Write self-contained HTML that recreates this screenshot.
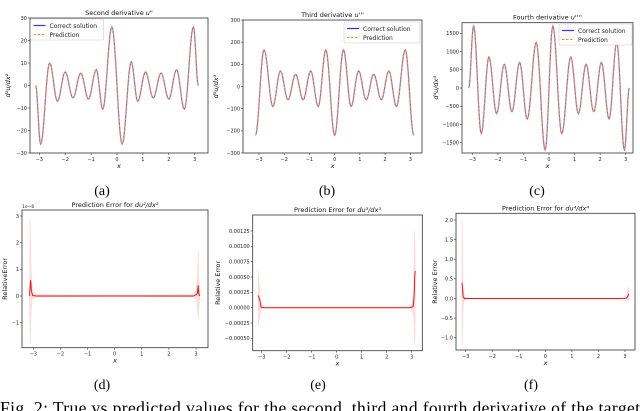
<!DOCTYPE html>
<html><head><meta charset="utf-8">
<style>
body{margin:0;background:#fff;}
svg{display:block;font-family:"DejaVu Sans","Liberation Sans",sans-serif;}
.cap{font-family:"Liberation Serif",serif;}
</style></head>
<body>
<svg id="fig" width="640" height="411" viewBox="0 0 640 411" xmlns="http://www.w3.org/2000/svg">
<text class="cap" x="102" y="195" font-size="14" text-anchor="middle">(a)</text>
<text class="cap" x="327" y="195" font-size="14" text-anchor="middle">(b)</text>
<text class="cap" x="537" y="195" font-size="14" text-anchor="middle">(c)</text>
<text class="cap" x="102" y="389" font-size="14" text-anchor="middle">(d)</text>
<text class="cap" x="318" y="389" font-size="14" text-anchor="middle">(e)</text>
<text class="cap" x="531" y="389" font-size="14" text-anchor="middle">(f)</text>
<text class="cap" x="0" y="414" font-size="17.5" textLength="640">Fig. 2: True vs predicted values for the second, third and fourth derivative of the target</text>
</svg>
<script>
// Panel (a) extrema
const aX=[-3.14,-2.95,-2.6,-2.3,-2.0,-1.7,-1.4,-1.1,-0.8,-0.55,-0.2,0.2,0.55,0.8,1.1,1.4,1.7,2.0,2.3,2.6,2.95,3.14];
const aY=[0,-26,10,-7,6,-5.5,5.5,-6,7,-10.5,26,-26,10.5,-7,6,-5.5,5.5,-6,7,-10.5,26,0];
const aYTicks=[-30,-20,-10,0,10,20,30];
// Panel (b) extrema
const bX=[-3.14,-2.8,-2.45,-2.15,-1.85,-1.55,-1.25,-0.95,-0.65,-0.35,0,0.35,0.65,0.95,1.25,1.55,1.85,2.15,2.45,2.8,3.14];
const bY=[-220,165,-90,70,-60,55,-60,70,-90,165,-220,165,-90,70,-60,55,-60,70,-90,165,-220];
const bYTicks=[-300,-200,-100,0,100,200,300];
// Panel (c) extrema
const cX=[-3.14,-2.95,-2.65,-2.35,-2.05,-1.75,-1.45,-1.15,-0.85,-0.5,-0.15,0.15,0.5,0.85,1.15,1.45,1.75,2.05,2.35,2.65,2.95,3.14];
const cY=[0,1700,-1250,850,-700,650,-650,700,-850,1250,-1700,1700,-1250,850,-700,650,-650,700,-850,1250,-1700,0];
const cYTicks=[-1500,-1000,-500,0,500,1000,1500];
const xTicks=[-3,-2,-1,0,1,2,3];
// Panel (d) error (units 1e-6)
const dX=[-3.14,-3.12,-3.1,-3.07,-3.03,-2.9,0,2.9,3.0,3.05,3.08,3.1,3.14];
const dY=[0,0.3,0.6,0.2,0.02,0,0,0,0.05,0.1,0.4,0.1,0];
const dBandHi=[0.5,2.9,2.0,0.8,0.2,0.05,0.03,0.05,0.2,0.6,1.7,0.8,0.2];
const dBandLo=[-0.3,-1.8,-1.2,-0.5,-0.1,-0.03,-0.02,-0.03,-0.1,-0.4,-0.9,-0.5,-0.1];
const dYTicks=[-1,0,1,2,3];
// Panel (e) error
const eX=[-3.14,-3.1,-3.06,-3.03,-2.9,0,2.9,3.0,3.06,3.1,3.12,3.14];
const eY=[0.0002,0.00015,0.0001,0.00001,0,0,0,0.00001,0.00002,0.0002,0.0005,0.0006];
const eBandHi=[0.0006,0.0004,0.0002,0.00005,0.00001,0.00001,0.00001,0.00005,0.0002,0.0008,0.00125,0.0009];
const eBandLo=[-0.0003,-0.0002,-0.0001,-0.00003,0,0,0,-0.00003,-0.0001,-0.0003,-0.0006,-0.0004];
const eYTicks=[-0.0005,-0.00025,0,0.00025,0.0005,0.00075,0.001,0.00125];
const eYLabels=["\u22120.00050","\u22120.00025","0.00000","0.00025","0.00050","0.00075","0.00100","0.00125"];
// Panel (f) error
const fX=[-3.14,-3.12,-3.1,-3.05,-2.9,0,2.9,3.05,3.1,3.14];
const fY=[0.4,0.3,0.05,0,0,0,0,0.01,0.05,0.12];
const fBandHi=[2.0,1.2,0.3,0.05,0.01,0.01,0.01,0.05,0.2,0.3];
const fBandLo=[-1.2,-0.8,-0.2,-0.03,0,0,0,-0.02,-0.05,-0.1];
const fYTicks=[-1,-0.5,0,0.5,1,1.5,2];
const fYLabels=["\u22121.0","\u22120.5","0.0","0.5","1.0","1.5","2.0"];

const NS="http://www.w3.org/2000/svg";
const svg=document.getElementById('fig');
function mk(tag,attrs,parent){const e=document.createElementNS(NS,tag);for(const k in attrs)e.setAttribute(k,attrs[k]);(parent||svg).appendChild(e);return e;}
function lin(d0,d1,r0,r1){return v=>r0+(v-d0)/(d1-d0)*(r1-r0);}
function fmt(v){return v<0?"\u2212"+(-v):""+v;}

function panel(p){
  const g=mk('g',{});
  
  
  const sx=lin(p.xd[0],p.xd[1],p.xr[0],p.xr[1]);
  const sy=lin(p.yd[0],p.yd[1],p.yr[0],p.yr[1]);
  const box=mk('rect',{x:p.L,y:p.T,width:p.R-p.L,height:p.B-p.T,fill:'none',stroke:'#333','stroke-width':0.8},g);
  
  
  xTicks.forEach(t=>{const x=sx(t);
    mk('line',{x1:x,x2:x,y1:p.B,y2:p.B+2,stroke:'#333','stroke-width':0.6},g);
    const tx=mk('text',{x:x,y:p.B+8,'font-size':5,'text-anchor':'middle',fill:'#222'},g);tx.textContent=fmt(t);
    
    });
  p.yt.forEach((t,i)=>{const y=sy(t);
    mk('line',{x1:p.L-2,x2:p.L,y1:y,y2:y,stroke:'#333','stroke-width':0.6},g);
    const tx=mk('text',{x:p.L-3,y:y+1.8,'font-size':5,'text-anchor':'end',fill:'#222'},g);tx.textContent=p.yl?p.yl[i]:fmt(t);
    
    });
  const tt=mk('text',{x:(p.L+p.R)/2,y:p.T-3,'font-size':6.5,'text-anchor':'middle',fill:'#111'},g);tt.innerHTML=p.title;
  
  
  const xl=mk('text',{x:(p.L+p.R)/2,y:p.B+15,'font-size':6.5,'text-anchor':'middle','font-style':'italic',fill:'#111'},g);xl.textContent='x';
  
  
  const yl=mk('text',{x:0,y:0,'font-size':6.5,'text-anchor':'middle',fill:'#111',transform:`translate(${p.ylx},${(p.T+p.B)/2}) rotate(-90)`},g);yl.innerHTML=p.ylab;
  
  
  if(p.sup){const s=mk('text',{x:p.L,y:p.T-2,'font-size':4.5,fill:'#222'},g);s.textContent=p.sup;
    
    }
  return {g,sx,sy};
}
function cosPath(X,Y,sx,sy){let d='';
  for(let i=0;i<X.length-1;i++){for(let k=0;k<=12;k++){const t=k/12;const x=X[i]+(X[i+1]-X[i])*t;const y=Y[i]+(Y[i+1]-Y[i])*(1-Math.cos(Math.PI*t))/2;
    d+=(d?'L':'M')+sx(x).toFixed(2)+','+sy(y).toFixed(2);}}return d;}
function linPath(X,Y,sx,sy){return X.map((x,i)=>(i?'L':'M')+sx(x).toFixed(2)+','+sy(Y[i]).toFixed(2)).join('');}

function curvePanel(p,X,Y,leg){
  const {g,sx,sy}=panel(p);
  const d=cosPath(X,Y,sx,sy);
  const l1=mk('path',{d:d,fill:'none',stroke:'#3333ff','stroke-width':1.2,'stroke-opacity':0.75},g);
  
  
  const l2=mk('path',{d:d,fill:'none',stroke:'#ff8c1a','stroke-width':1.1,'stroke-dasharray':'2.5,1.5'},g);
  
  
  const lg=mk('g',{},g);
  
  
  mk('rect',{x:leg[0],y:leg[1],width:leg[2],height:21,fill:'#fff','fill-opacity':0.85,stroke:'#ccc','stroke-width':0.6,rx:1.5},lg);
  mk('line',{x1:leg[0]+3,x2:leg[0]+15,y1:leg[1]+6.5,y2:leg[1]+6.5,stroke:'#3333ff','stroke-width':1.2},lg);
  mk('line',{x1:leg[0]+3,x2:leg[0]+15,y1:leg[1]+15.5,y2:leg[1]+15.5,stroke:'#ff8c1a','stroke-width':1.1,'stroke-dasharray':'2.5,1.5'},lg);
  const t1=mk('text',{x:leg[0]+19,y:leg[1]+8.8,'font-size':6,fill:'#222'},lg);t1.textContent='Correct solution';
  
  
  const t2=mk('text',{x:leg[0]+19,y:leg[1]+17.8,'font-size':6,fill:'#222'},lg);t2.textContent='Prediction';
  
  
}
function errPanel(p,X,Y,H,Lo){
  const {g,sx,sy}=panel(p);
  const band=linPath(X,H,sx,sy)+X.slice().reverse().map((x,i)=>'L'+sx(x).toFixed(2)+','+sy(Lo[X.length-1-i]).toFixed(2)).join('')+'Z';
  const b=mk('path',{d:band,fill:'#ff0000','fill-opacity':0.12,stroke:'#ff0000','stroke-opacity':0.15,'stroke-width':0.4},g);
  
  
  const l=mk('path',{d:linPath(X,Y,sx,sy),fill:'none',stroke:'#ff1010','stroke-width':1},g);
  
  
}

curvePanel({name:'chart-a',L:30,R:208,T:18,B:153,xd:[-3,3],xr:[39.3,194.7],yd:[-30,30],yr:[153,18],yt:aYTicks,
  title:'Second derivative <tspan font-style="italic">u"</tspan>',ylab:'<tspan font-style="italic">d²u/dx²</tspan>',ylx:10},aX,aY,[30.5,19,73]);
curvePanel({name:'chart-b',L:243,R:422,T:20,B:153,xd:[-3,3],xr:[259,410.3],yd:[-300,300],yr:[153,20],yt:bYTicks,
  title:'Third derivative <tspan font-style="italic">u\'\'\'</tspan>',ylab:'<tspan font-style="italic">d³u/dx³</tspan>',ylx:218},bX,bY,[344,22,76]);
curvePanel({name:'chart-c',L:462,R:633,T:22.7,B:153,xd:[-3,3],xr:[472.3,625.7],yd:[-1500,1500],yr:[142.7,33.3],yt:cYTicks,
  title:'Fourth derivative <tspan font-style="italic">u\'\'\'\'</tspan>',ylab:'<tspan font-style="italic">d⁴u/dx⁴</tspan>',ylx:438},cX,cY,[559,24,73]);
errPanel({name:'chart-d',L:22,R:208,T:210,B:347.7,xd:[-3,3],xr:[33.3,196],yd:[-1,3],yr:[322.7,216],yt:dYTicks,
  title:'Prediction Error for <tspan font-style="italic">du²/dx²</tspan>',ylab:'RelativeError',ylx:7,sup:'1e\u22126'},dX,dY,dBandHi,dBandLo);
errPanel({name:'chart-e',L:252.7,R:422.3,T:215,B:350.7,xd:[-3,3],xr:[261.7,411.7],yd:[0,0.00125],yr:[307.7,231],yt:eYTicks,yl:eYLabels,
  title:'Prediction Error for <tspan font-style="italic">du³/dx³</tspan>',ylab:'Relative Error',ylx:220},eX,eY,eBandHi,eBandLo);
errPanel({name:'chart-f',L:456,R:635,T:213.3,B:350,xd:[-3,3],xr:[465.7,625],yd:[-1,2],yr:[337.7,220],yt:fYTicks,yl:fYLabels,
  title:'Prediction Error for <tspan font-style="italic">du⁴/dx⁴</tspan>',ylab:'Relative Error',ylx:437},fX,fY,fBandHi,fBandLo);
</script>
</body></html>
